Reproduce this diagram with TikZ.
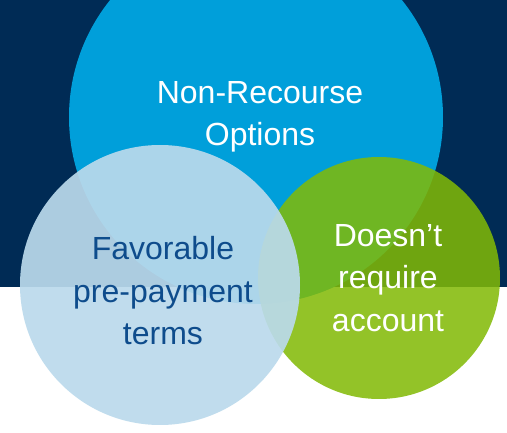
\documentclass[tikz,border=0pt]{standalone}
\usepackage{fontspec}
\setmainfont{Liberation Sans}
\definecolor{navy}{RGB}{0,43,85}
\definecolor{skyblue}{RGB}{0,159,218}
\definecolor{leafgreen}{RGB}{130,186,5}
\definecolor{paleblue}{RGB}{187,218,236}
\definecolor{inkblue}{RGB}{14,76,140}
\begin{document}
\begin{tikzpicture}[x=1pt, y=-1pt,
	lbl/.style={align=center, font=\fontsize{32}{42.5}\selectfont, inner sep=0pt}]
		\useasboundingbox (0,0) rectangle (507,433);
		\clip (0,0) rectangle (507,433);
		\fill[navy] (0,0) rectangle (507,287);
		\fill[white] (0,287) rectangle (507,433);
		\fill[skyblue] (256,117) circle (187pt);
		\fill[leafgreen, opacity=0.86] (379,278) circle (121pt);
		\fill[paleblue, opacity=0.92] (160,285) circle (140pt);
		\node[lbl, white] (nonrec) at (260,117) {Non-Recourse\\Options};
		\node[lbl, inkblue] (favor) at (163,291) {Favorable\\pre-payment\\terms};
		\node[lbl, white] (noacc) at (388,278) {Doesn’t\\require\\account};
		\end{tikzpicture}
\end{document}
